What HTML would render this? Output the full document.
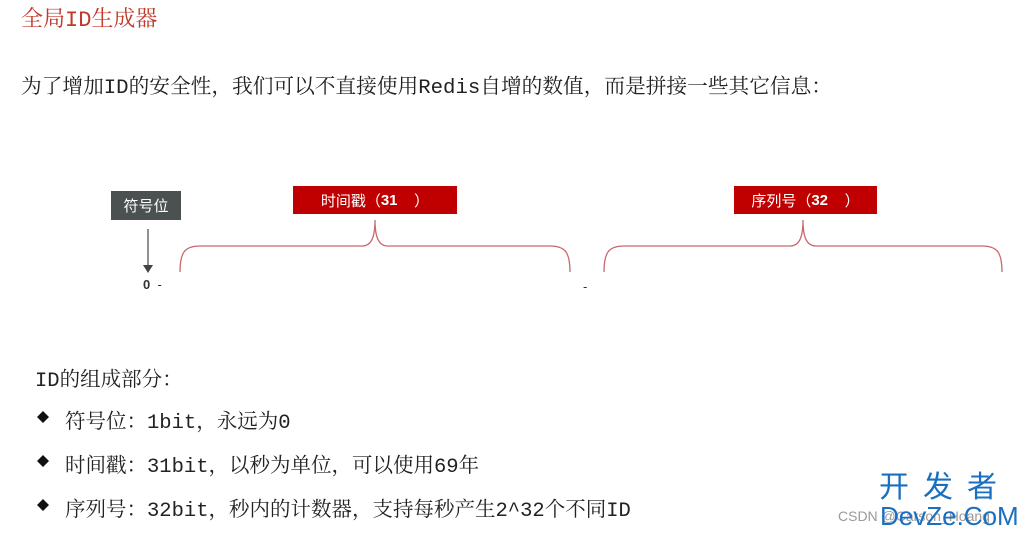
<!DOCTYPE html>
<html><head><meta charset="utf-8"><style>
body{margin:0;width:1035px;height:536px;background:#fff;position:relative;overflow:hidden;font-family:"Liberation Mono","Noto Serif CJK SC",serif;color:#222}
.t{position:absolute;white-space:nowrap}
.box{position:absolute;color:#fff;font-family:"Liberation Sans","Noto Sans CJK SC",sans-serif;font-size:15px;display:flex;align-items:center;justify-content:center}
</style></head><body>
<div class="t" style="left:21px;top:2px;font-size:22px;color:#c0392b">全局ID生成器</div>
<div class="t" style="left:21px;top:69px;font-size:20.7px">为了增加ID的安全性，我们可以不直接使用Redis自增的数值，而是拼接一些其它信息：</div>
<div class="box" style="left:111px;top:191px;width:70px;height:29px;background:#4b5050">符号位</div>
<div class="box" style="left:293px;top:186px;width:164px;height:28px;background:#c00000">时间戳（<b>31</b>&nbsp;&nbsp;&nbsp;&nbsp;）</div>
<div class="box" style="left:734px;top:186px;width:143px;height:28px;background:#c00000">序列号（<b>32</b>&nbsp;&nbsp;&nbsp;&nbsp;）</div>
<svg style="position:absolute;left:0;top:0" width="1035" height="536">
<g fill="none" stroke="#c9686b" stroke-width="1.3">
<path d="M180,272 C180,252 185,246 200,246 L362,246 C370,246 375,240 375,220 C375,240 380,246 388,246 L550,246 C565,246 570,252 570,272"/>
<path d="M604,272 C604,252 609,246 624,246 L790,246 C798,246 803,240 803,220 C803,240 808,246 816,246 L982,246 C997,246 1002,252 1002,272"/>
</g>
<line x1="148" y1="229" x2="148" y2="265" stroke="#555" stroke-width="1.3"/>
<polygon points="143,265 153,265 148,273" fill="#444"/>
<path d="M37,417 L43,411 L49,417 L43,423Z M37,461 L43,455 L49,461 L43,467Z M37,505 L43,499 L49,505 L43,511Z" fill="#111"/>
</svg>
<div class="t" style="left:143px;top:277px;font-size:13px;font-family:'Liberation Sans',sans-serif;color:#333"><b>0</b>&nbsp;&nbsp;-</div>
<div class="t" style="left:583px;top:279px;font-size:13px;font-family:'Liberation Sans',sans-serif;color:#333">-</div>
<div class="t" style="left:35px;top:362px;font-size:20.5px">ID的组成部分：</div>
<div class="t" style="left:65px;top:404px;font-size:20.5px">符号位：1bit，永远为0</div>
<div class="t" style="left:65px;top:448px;font-size:20.5px">时间戳：31bit，以秒为单位，可以使用69年</div>
<div class="t" style="left:65px;top:492px;font-size:20.5px">序列号：32bit，秒内的计数器，支持每秒产生2^32个不同ID</div>
<div class="t" style="left:838px;top:508px;font-size:14px;font-family:'Liberation Sans',sans-serif;color:#999">CSDN @Carson_Hoang</div>
<div class="t" style="left:879px;top:468px;font-size:30px;font-family:'Noto Sans CJK SC',sans-serif;color:#1a6fc0;letter-spacing:14px;line-height:32px">开发者</div>
<div class="t" style="left:880px;top:500px;font-size:26px;font-family:'Liberation Sans',sans-serif;color:#1a6fc0;line-height:32px">DevZe.CoM</div>
</body></html>
